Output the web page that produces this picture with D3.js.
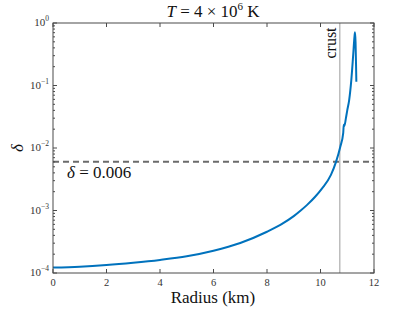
<!DOCTYPE html>
<html><head><meta charset="utf-8">
<script src="https://cdn.jsdelivr.net/npm/d3@7"></script>
<style>body{margin:0;background:#fff}svg{display:block}</style>
</head><body>
<svg id="c" width="413" height="310"></svg>
<script>
const radius = [0, 1, 2, 3, 4, 5, 6, 7, 8, 8.5, 9, 9.26, 9.5, 9.8, 10.06, 10.39, 10.58, 10.74, 10.85, 10.87, 10.89, 10.95, 11.0, 11.07, 11.15, 11.22, 11.27, 11.29, 11.31, 11.33, 11.34];
const delta = [1.22e-4, 1.26e-4, 1.34e-4, 1.46e-4, 1.62e-4, 1.85e-4, 2.27e-4, 3.02e-4, 4.57e-4, 5.89e-4, 8.13e-4, 1.0e-3, 1.23e-3, 1.66e-3, 2.26e-3, 3.72e-3, 6.0e-3, 0.0105, 0.0175, 0.0235, 0.0225, 0.03, 0.04, 0.058, 0.12, 0.3, 0.6, 0.71, 0.5, 0.2, 0.115];
const xTicks = [0, 2, 4, 6, 8, 10, 12];
const yTicks = [1e-4, 1e-3, 1e-2, 1e-1, 1];
const yTickExp = ["−4", "−3", "−2", "−1", "0"];
const threshold = 0.006;
const crustRadius = 10.72;

const svg = d3.select("#c");
const m = {l: 53, r: 374, t: 23, b: 273};
const x = d3.scaleLinear().domain([0, 12]).range([m.l, m.r]);
const y = d3.scaleLog().domain([1e-4, 1]).range([m.b, m.t]);
const axisCol = "#4a4a4a";
const font = "'Liberation Serif', 'DejaVu Serif', serif";

// crust line
svg.append("line").attr("x1", x(crustRadius)).attr("x2", x(crustRadius))
  .attr("y1", m.t).attr("y2", m.b).attr("stroke", "#bdbdbd").attr("stroke-width", 1.5);

// threshold dashed
svg.append("line").attr("x1", m.l).attr("x2", m.r).attr("y1", y(threshold)).attr("y2", y(threshold))
  .attr("stroke", "#6b6b6b").attr("stroke-width", 2).attr("stroke-dasharray", "6,4");

// curve
svg.append("path").datum(radius.map((r, i) => [r, delta[i]]))
  .attr("d", d3.line().x(d => x(d[0])).y(d => y(d[1])).curve(d3.curveMonotoneX))
  .attr("fill", "none").attr("stroke", "#0072BD").attr("stroke-width", 2);

// axes
const minor = [];
for (let k = -4; k < 0; k++) for (let j = 2; j <= 9; j++) minor.push(j * Math.pow(10, k));
const g = svg.append("g").attr("stroke", axisCol).attr("stroke-width", 1);
g.append("rect").attr("x", m.l).attr("y", m.t).attr("width", m.r - m.l).attr("height", m.b - m.t).attr("fill", "none");
xTicks.forEach(t => {
  g.append("line").attr("x1", x(t)).attr("x2", x(t)).attr("y1", m.b).attr("y2", m.b - 4);
  g.append("line").attr("x1", x(t)).attr("x2", x(t)).attr("y1", m.t).attr("y2", m.t + 4);
});
yTicks.forEach(t => {
  g.append("line").attr("x1", m.l).attr("x2", m.l + 4).attr("y1", y(t)).attr("y2", y(t));
  g.append("line").attr("x1", m.r).attr("x2", m.r - 4).attr("y1", y(t)).attr("y2", y(t));
});
minor.forEach(t => {
  g.append("line").attr("x1", m.l).attr("x2", m.l + 2).attr("y1", y(t)).attr("y2", y(t));
  g.append("line").attr("x1", m.r).attr("x2", m.r - 2).attr("y1", y(t)).attr("y2", y(t));
});

// tick labels
xTicks.forEach(t => {
  svg.append("text").attr("x", x(t)).attr("y", m.b + 13).attr("text-anchor", "middle")
    .attr("font-family", font).attr("font-size", 10.5).attr("fill", "#333").text(t);
});
yTicks.forEach((t, i) => {
  const tx = svg.append("text").attr("x", m.l - 4).attr("y", y(t) + 3).attr("text-anchor", "end")
    .attr("font-family", font).attr("font-size", 11).attr("fill", "#333");
  tx.append("tspan").text("10");
  tx.append("tspan").attr("dy", -5).attr("font-size", 7.5).text(yTickExp[i]);
});

// labels
const title = svg.append("text").attr("x", 213).attr("y", 17).attr("text-anchor", "middle")
  .attr("font-family", font).attr("font-size", 17).attr("fill", "#111");
title.append("tspan").attr("font-style", "italic").text("T");
title.append("tspan").text(" = 4 × 10");
title.append("tspan").attr("dy", -7).attr("font-size", 11).text("6");
title.append("tspan").attr("dy", 7).text(" K");

svg.append("text").attr("x", 213).attr("y", 303).attr("text-anchor", "middle")
  .attr("font-family", font).attr("font-size", 17).attr("fill", "#111").text("Radius (km)");

svg.append("text").attr("transform", "translate(23,148) rotate(-90)").attr("text-anchor", "middle")
  .attr("font-family", font).attr("font-size", 17).attr("font-style", "italic").attr("fill", "#111").text("δ");

svg.append("text").attr("transform", `translate(${x(crustRadius) - 4},43) rotate(-90)`).attr("text-anchor", "middle")
  .attr("font-family", font).attr("font-size", 16).attr("fill", "#111").text("crust");

const dl = svg.append("text").attr("x", 67).attr("y", 178)
  .attr("font-family", font).attr("font-size", 17).attr("fill", "#111");
dl.append("tspan").attr("font-style", "italic").text("δ");
dl.append("tspan").text(" = 0.006");
</script>
</body></html>
